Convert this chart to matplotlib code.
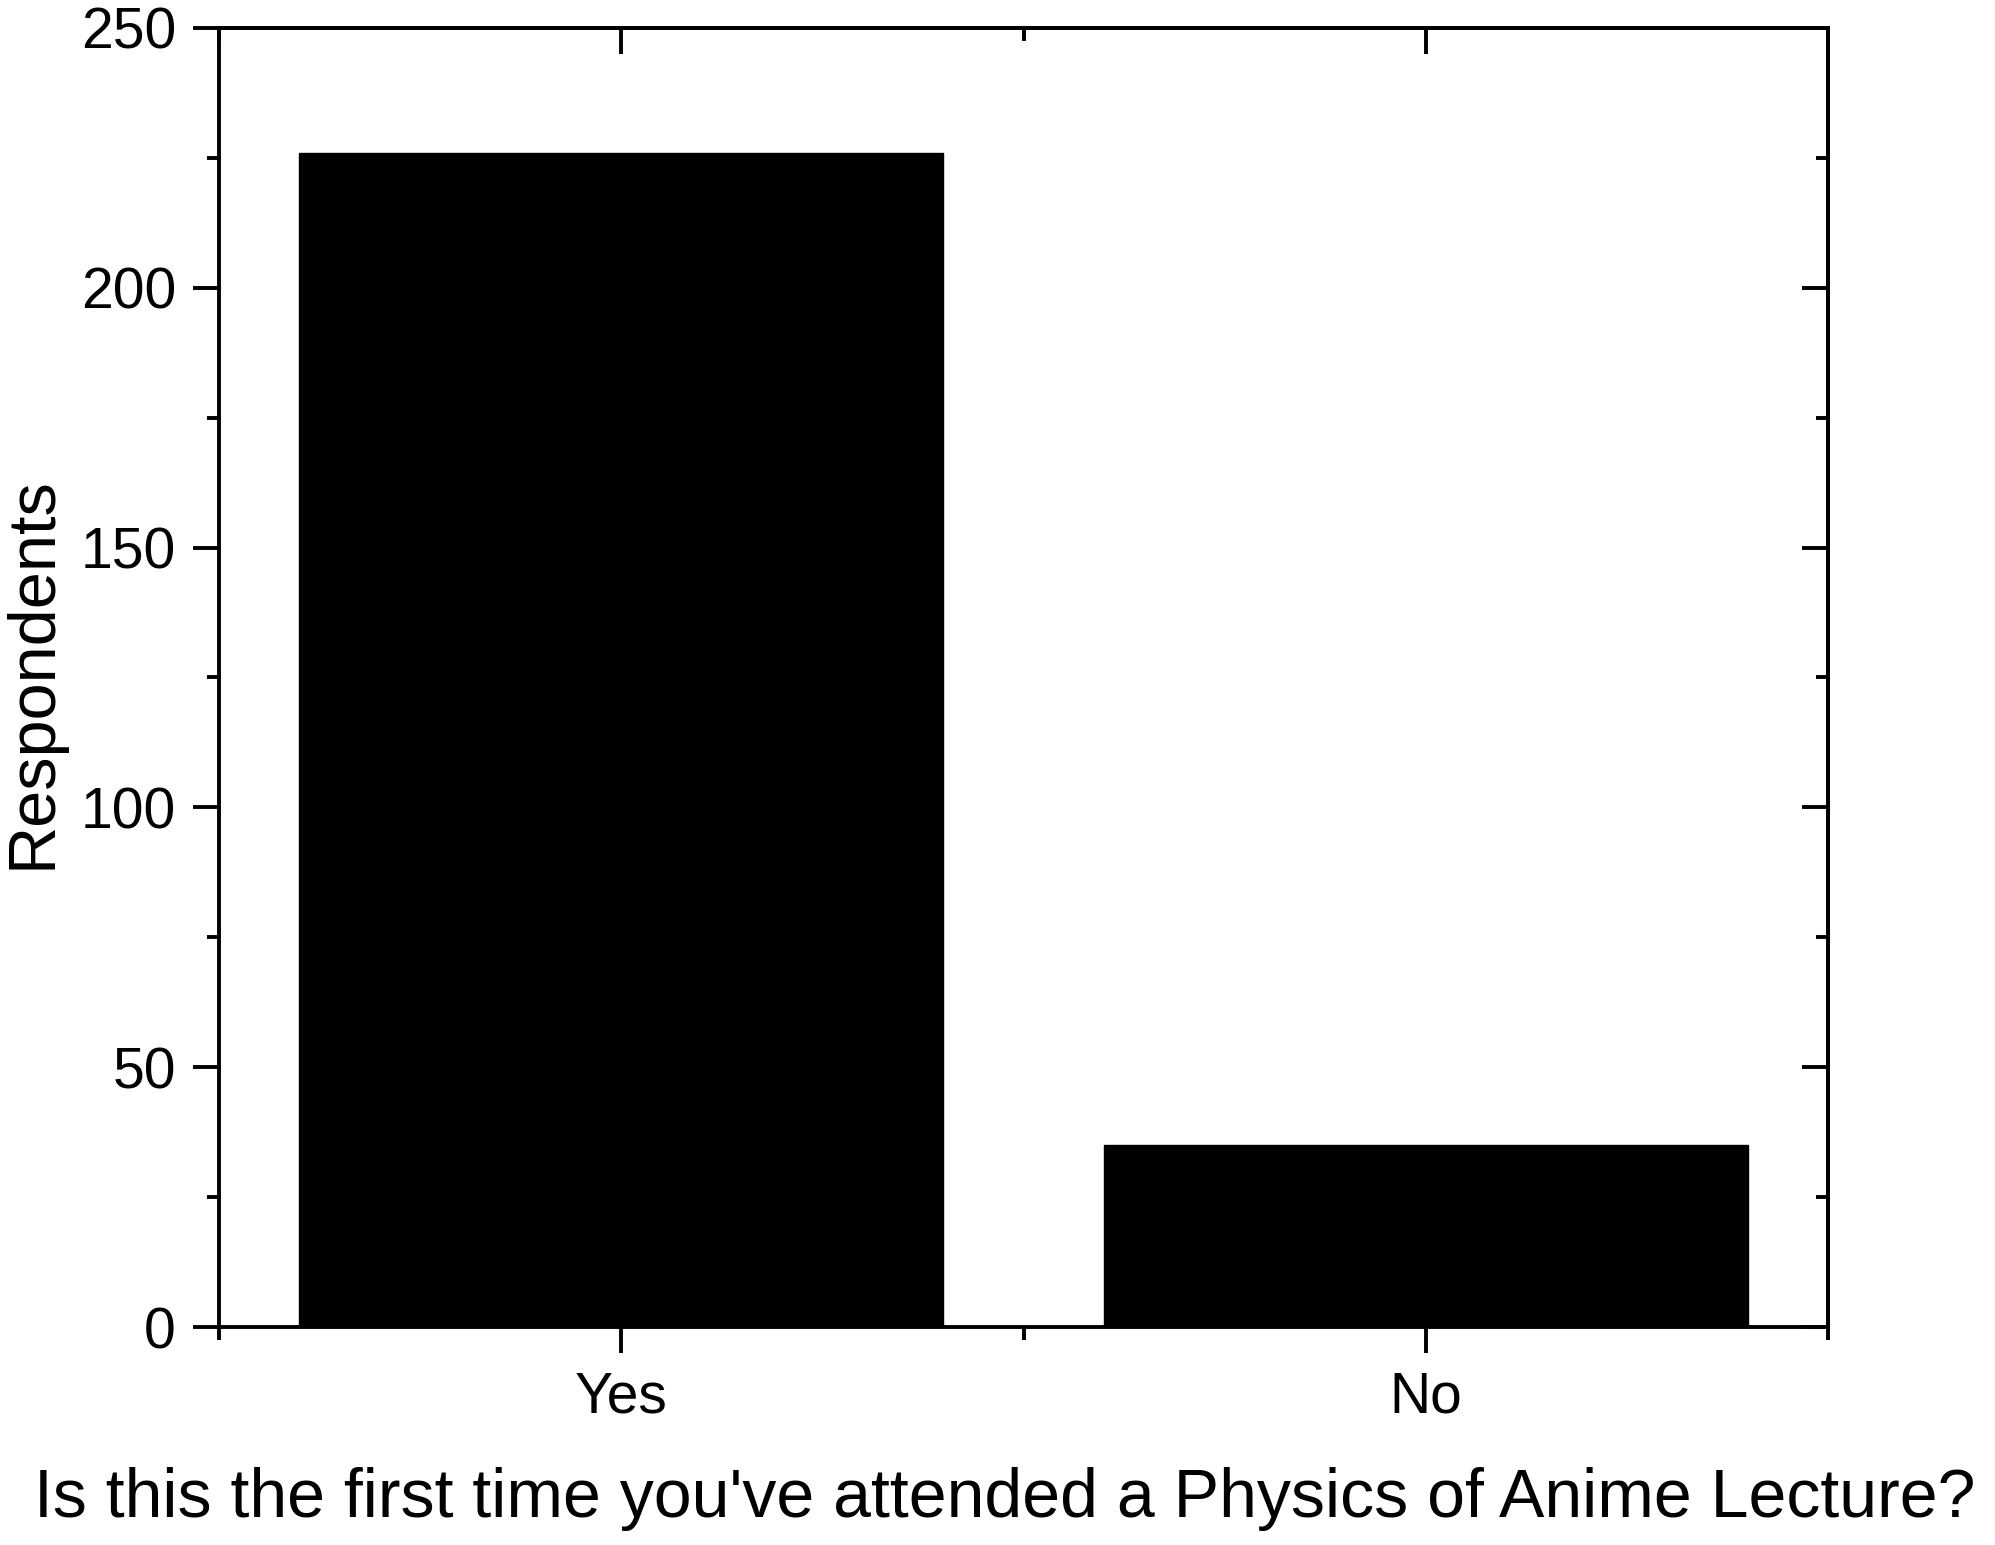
import matplotlib.pyplot as plt
from matplotlib.ticker import MultipleLocator, FixedLocator

# Datos
categorias = ['Yes', 'No']
respuestas = [226, 35]
posiciones = [1, 2]

plt.rcParams['font.family'] = ['Liberation Sans', 'DejaVu Sans']

fig = plt.figure(figsize=(19.95, 15.45), dpi=100)
ax = fig.add_axes([0.1098, 0.1411, 0.8065, 0.8408])

ax.bar(posiciones, respuestas, width=0.8, color='black', edgecolor='black')

ax.set_xlim(0.5, 2.5)
ax.set_ylim(0, 250)
ax.set_xticks(posiciones)
ax.set_xticklabels(categorias)
ax.xaxis.set_minor_locator(FixedLocator([0.5, 1.5, 2.5]))
ax.yaxis.set_major_locator(MultipleLocator(50))
ax.yaxis.set_minor_locator(MultipleLocator(25))

ancho = 2.8
for s in ax.spines.values():
    s.set_linewidth(ancho)

ax.tick_params(which='major', direction='out', length=19, width=ancho,
               labelsize=41, pad=12)
ax.tick_params(which='minor', direction='out', length=9, width=ancho)

# Marcas hacia dentro en los lados derecho y superior
arriba = ax.secondary_xaxis('top')
arriba.set_xticks(posiciones)
arriba.xaxis.set_minor_locator(FixedLocator([0.5, 1.5, 2.5]))
arriba.tick_params(which='major', direction='in', length=19, width=ancho, labeltop=False)
arriba.tick_params(which='minor', direction='in', length=9, width=ancho)
arriba.spines['top'].set_linewidth(ancho)

derecha = ax.secondary_yaxis('right')
derecha.yaxis.set_major_locator(MultipleLocator(50))
derecha.yaxis.set_minor_locator(MultipleLocator(25))
derecha.tick_params(which='major', direction='in', length=19, width=ancho, labelright=False)
derecha.tick_params(which='minor', direction='in', length=9, width=ancho)
derecha.spines['right'].set_linewidth(ancho)

ax.set_ylabel('Respondents', fontsize=48)
ax.set_xlabel("Is this the first time you've attended a Physics of Anime Lecture?", fontsize=49)
ax.yaxis.set_label_coords(-0.096, 0.504)
ax.xaxis.set_label_coords(0.4885, -0.108)

fig.savefig('out.png', dpi=100)
plt.close()
